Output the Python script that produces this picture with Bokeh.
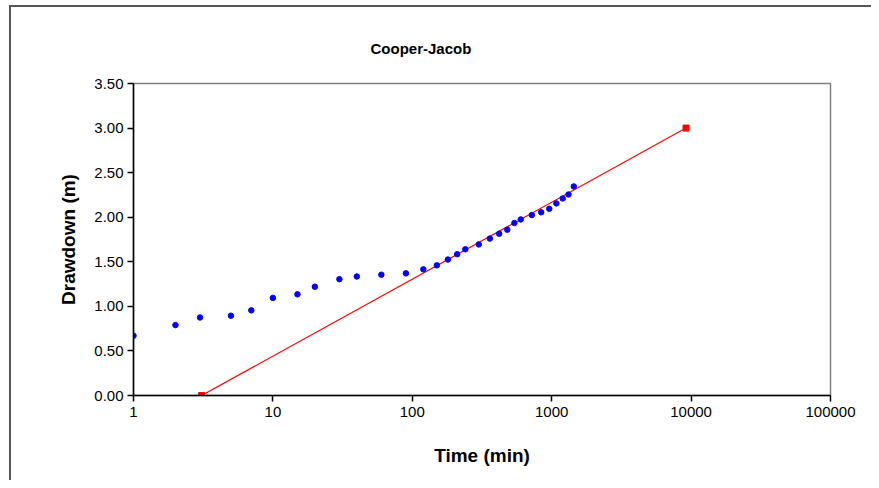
from bokeh.plotting import figure
from bokeh.models import FixedTicker, NumeralTickFormatter, Range1d
from bokeh.embed import file_html
from bokeh.resources import INLINE

# Observed data: time (min) vs drawdown (m)
time_min = [1, 2, 3, 5, 7, 10, 15, 20, 30, 40, 60, 90, 120, 150, 180, 210, 240,
            300, 360, 420, 480, 540, 600, 720, 840, 960, 1080, 1200, 1320, 1440]
drawdown_m = [0.67, 0.79, 0.875, 0.895, 0.955, 1.095, 1.135, 1.22, 1.305, 1.335,
              1.355, 1.37, 1.415, 1.46, 1.525, 1.585, 1.64, 1.695, 1.76, 1.815,
              1.86, 1.935, 1.975, 2.025, 2.055, 2.095, 2.155, 2.21, 2.255, 2.345]

# Cooper-Jacob straight-line fit
fit_time = [3.08, 9200]
fit_drawdown = [0.0, 3.0]

x_ticks = [1, 10, 100, 1000, 10000, 100000]
y_ticks = [0.0, 0.5, 1.0, 1.5, 2.0, 2.5, 3.0, 3.5]

FONT = "Liberation Sans"

p = figure(width=871, height=480, x_axis_type="log", output_backend="svg",
           toolbar_location=None, x_range=Range1d(1, 100000), y_range=Range1d(0, 3.5),
           min_border_left=133, min_border_right=41, min_border_top=83,
           min_border_bottom=85, title="Cooper-Jacob")
p.border_fill_color = None
p.background_fill_color = "#ffffff"
p.styles = {
    "background": ("linear-gradient(#555555,#555555) 9px 5px / 2px 100% no-repeat, "
                   "linear-gradient(#555555,#555555) 9px 5px / 100% 2px no-repeat, #ffffff"),
}

p.title.text_font = FONT
p.title.text_font_size = "15px"
p.title.text_font_style = "bold"
p.title.text_color = "#000000"
p.title.align = "left"
p.title.offset = 237
p.title.standoff = 54

p.outline_line_color = "#808080"
p.outline_line_width = 1.5
p.xgrid.visible = False
p.ygrid.visible = False

p.line(fit_time, fit_drawdown, line_color="#ff0000", line_width=1.2)
p.scatter(fit_time, fit_drawdown, marker="square", size=6, color="#ff0000")
p.scatter(time_min, drawdown_m, marker="circle", size=5.5, color="#0000ff")

for ax in (p.xaxis[0], p.yaxis[0]):
    ax.axis_line_color = "#000000"
    ax.axis_line_width = 1.5
    ax.major_tick_line_color = "#000000"
    ax.major_tick_line_width = 1.5
    ax.major_tick_out = 6
    ax.major_tick_in = 0
    ax.minor_tick_line_color = None
    ax.major_label_text_font = FONT
    ax.major_label_text_font_size = "15px"
    ax.major_label_text_color = "#000000"
    ax.axis_label_text_font = FONT
    ax.axis_label_text_font_size = "19px"
    ax.axis_label_text_font_style = "bold"
    ax.axis_label_text_color = "#000000"

p.xaxis.ticker = FixedTicker(ticks=x_ticks)
p.xaxis.major_label_overrides = {t: str(t) for t in x_ticks}
p.xaxis.axis_label = "Time (min)"
p.xaxis.major_label_standoff = 5
p.xaxis.axis_label_standoff = 25

p.yaxis.ticker = FixedTicker(ticks=y_ticks)
p.yaxis.formatter = NumeralTickFormatter(format="0.00")
p.yaxis.axis_label = "Drawdown (m)"
p.yaxis.major_label_standoff = 4
p.yaxis.axis_label_standoff = 12

open("out.html", "w").write(file_html(p, INLINE))
